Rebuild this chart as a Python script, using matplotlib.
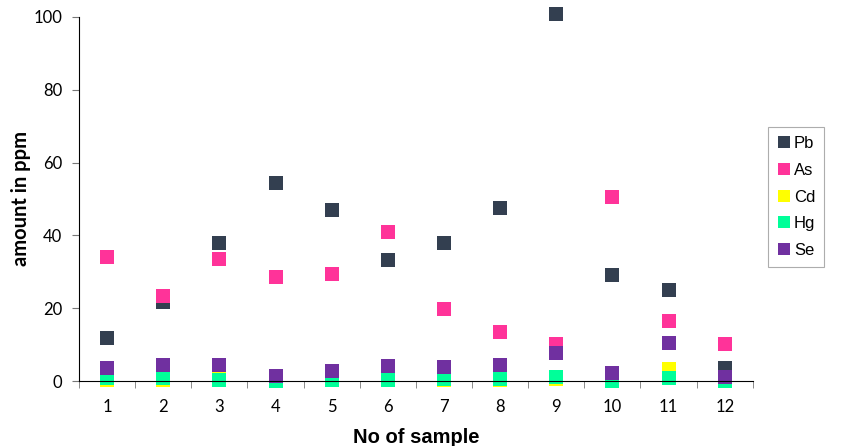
import matplotlib.pyplot as plt
from matplotlib.ticker import FixedLocator, NullFormatter

samples = list(range(1, 13))
pb = [11.8, 21.7, 38.0, 54.4, 47.0, 33.2, 37.8, 47.5, 100.8, 29.0, 25.0, 3.5]
as_ = [34.0, 23.3, 33.4, 28.6, 29.3, 40.9, 19.8, 13.4, 10.2, 50.5, 16.6, 10.2]
cd = [0.2, 0.3, 1.0, 0.1, 0.2, 0.3, 0.3, 0.4, 0.5, 0.1, 3.2, 0.2]
hg = [0.8, 0.9, 0.4, 0.0, 0.3, 0.2, 0.5, 0.6, 1.2, 0.0, 0.7, 0.0]
se = [3.5, 4.3, 4.5, 1.4, 2.8, 4.2, 3.9, 4.4, 7.6, 2.3, 10.4, 1.0]

names = ['Pb', 'As', 'Cd', 'Hg', 'Se']
series = [pb, as_, cd, hg, se]
colors = ['#333f50', '#ff3399', '#ffff00', '#00ff99', '#7030a0']

fig = plt.figure(figsize=(8.43, 4.46), dpi=100)
ax = fig.add_axes([0.0937, 0.1457, 0.7993, 0.8163])

for name, vals, c in zip(names, series, colors):
    ax.plot(samples, vals, linestyle='none', marker='s', markersize=9.5,
            color=c, markeredgewidth=0, label=name, clip_on=False)

ax.set_xlim(0.5, 12.5)
ax.set_ylim(0, 100)
ax.set_yticks([0, 20, 40, 60, 80, 100])
ax.set_xticks(samples)
ax.tick_params(axis='x', which='major', length=0, pad=13)
ax.xaxis.set_minor_locator(FixedLocator([k + 0.5 for k in range(0, 13)]))
ax.xaxis.set_minor_formatter(NullFormatter())
ax.tick_params(axis='x', which='minor', length=5, color='#777777')
ax.tick_params(axis='y', length=5, pad=7, color='#777777')
ax.tick_params(labelsize=12)
for lab in ax.get_xticklabels() + ax.get_yticklabels():
    lab.set_fontfamily('Lato')

ax.spines['top'].set_visible(False)
ax.spines['right'].set_visible(False)

ax.set_xlabel('No of sample', fontsize=14.5, fontweight='bold',
              fontfamily='Liberation Sans', labelpad=9)
ax.set_ylabel('amount in ppm', fontsize=14.5, fontweight='bold',
              fontfamily='Lato', labelpad=2)

leg = fig.legend(loc='upper left', bbox_to_anchor=(0.911, 0.715),
                 prop={'family': 'Liberation Sans', 'size': 12},
                 handlelength=0.8, handletextpad=0.2, borderpad=0.55,
                 labelspacing=0.7, fancybox=False, edgecolor='#999999',
                 markerscale=0.85, borderaxespad=0)
leg.get_frame().set_linewidth(0.8)

fig.savefig('out.png', dpi=100)
